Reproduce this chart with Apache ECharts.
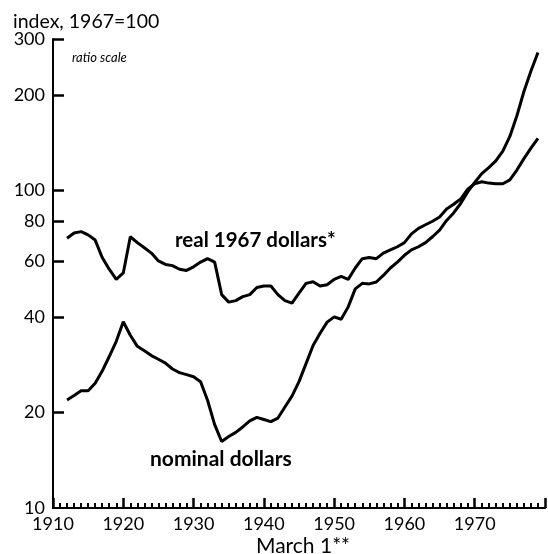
<!DOCTYPE html>
<html><head><meta charset="utf-8">
<script src="https://cdn.jsdelivr.net/npm/echarts@6/dist/echarts.min.js"></script>
<style>html,body{margin:0;padding:0;background:#fff}#c{width:548px;height:554px}</style>
</head><body><div id="c"></div>
<script>
// ---- data ----
const years = [1912,1913,1914,1915,1916,1917,1918,1919,1920,1921,
  1922,1923,1924,1925,1926,1927,1928,1929,1930,1931,
  1932,1933,1934,1935,1936,1937,1938,1939,1940,1941,
  1942,1943,1944,1945,1946,1947,1948,1949,1950,1951,
  1952,1953,1954,1955,1956,1957,1958,1959,1960,1961,
  1962,1963,1964,1965,1966,1967,1968,1969,1970,1971,
  1972,1973,1974,1975,1976,1977,1978,1979];
const realValues = [70.7,73.5,74.2,72.5,69.8,61.5,56.5,52.5,55,71.5,
  68.5,66,63.5,60,58.5,58,56.5,56,57.5,59.5,
  61,59.5,47,44.5,45,46.3,47,49.5,50,50,
  47,45,44.2,47.5,51,51.6,50,50.5,52.5,53.6,
  52.5,57,61,61.5,61,63.5,65,66.5,68.5,73,
  76,78,80,82.5,87.5,90.5,94,101,105,106.5,
  105.5,105,105,108,116,126,136,146];
const nominalValues = [21.9,22.6,23.4,23.4,24.7,27,30,33.5,38.6,35,
  32.3,31.3,30.2,29.4,28.6,27.4,26.7,26.3,25.9,25,
  21.8,18.3,16.2,16.8,17.3,18,18.8,19.3,19,18.7,
  19.2,20.8,22.5,25,28.5,32.5,35.5,38.5,40,39.3,
  43,49,51,50.8,51.5,54,57,59.5,62.5,65,
  66.5,68.5,71.5,75,80.5,85,91,99,106,113,
  118,124,133,148,172,205,238,272];
const yTickValues = [20,40,60,80,100,200,300];
const yLabelValues = [10,20,40,60,80,100,200,300];
const xLabelYears = [1910,1920,1930,1940,1950,1960,1970];
const seriesNames = ['real 1967 dollars*', 'nominal dollars'];

const FONT = 'Lato';
const chart = echarts.init(document.getElementById('c'), null, {renderer: 'canvas'});
const pair = (vals) => years.map((y, i) => [y, vals[i]]);
chart.setOption({
  animation: false,
  backgroundColor: '#fff',
  grid: {left: 53, right: -4, top: 39, bottom: 46, containLabel: false},
  xAxis: {
    type: 'value', min: 1910, max: 1980, interval: 10,
    axisLine: {show: true, lineStyle: {color: '#000', width: 2}},
    axisTick: {show: true, inside: true, length: 10, lineStyle: {color: '#000', width: 2.5}},
    minorTick: {show: true, splitNumber: 10, length: 5, lineStyle: {color: '#000', width: 2}},
    splitLine: {show: false},
    axisLabel: {
      color: '#000', fontFamily: FONT, fontSize: 18, margin: 7,
      formatter: (v) => xLabelYears.indexOf(Math.round(v)) >= 0 && Math.abs(v - Math.round(v)) < 1e-6 ? String(Math.round(v)) : ''
    }
  },
  yAxis: {
    type: 'log', logBase: 10, min: 10, max: 300,
    axisLine: {show: true, lineStyle: {color: '#000', width: 2}},
    axisTick: {show: true, inside: true, length: 11, customValues: yTickValues, lineStyle: {color: '#000', width: 2.5}},
    splitLine: {show: false},
    axisLabel: {color: '#000', fontFamily: FONT, fontSize: 18, margin: 8, customValues: yLabelValues}
  },
  series: [
    {name: seriesNames[0], type: 'line', data: pair(realValues), showSymbol: false, symbol: 'none',
     lineStyle: {color: '#000', width: 3}, z: 3},
    {name: seriesNames[1], type: 'line', data: pair(nominalValues), showSymbol: false, symbol: 'none',
     lineStyle: {color: '#000', width: 3}, z: 3}
  ],
  graphic: [
    {type: 'text', left: 13, top: 12, style: {text: 'index, 1967=100', font: '19.5px ' + FONT, fill: '#000'}},
    {type: 'text', left: 72, top: 51, style: {text: 'ratio scale', font: 'italic 13px ' + FONT, fill: '#000'}},
    {type: 'text', left: 175, top: 230, style: {text: seriesNames[0], font: 'bold 20.5px ' + FONT, fill: '#000'}},
    {type: 'text', left: 150, top: 449, style: {text: seriesNames[1], font: 'bold 21px ' + FONT, fill: '#000'}},
    {type: 'text', left: 256, top: 536, style: {text: 'March 1**', font: '21px ' + FONT, fill: '#000'}}
  ]
});
</script></body></html>
